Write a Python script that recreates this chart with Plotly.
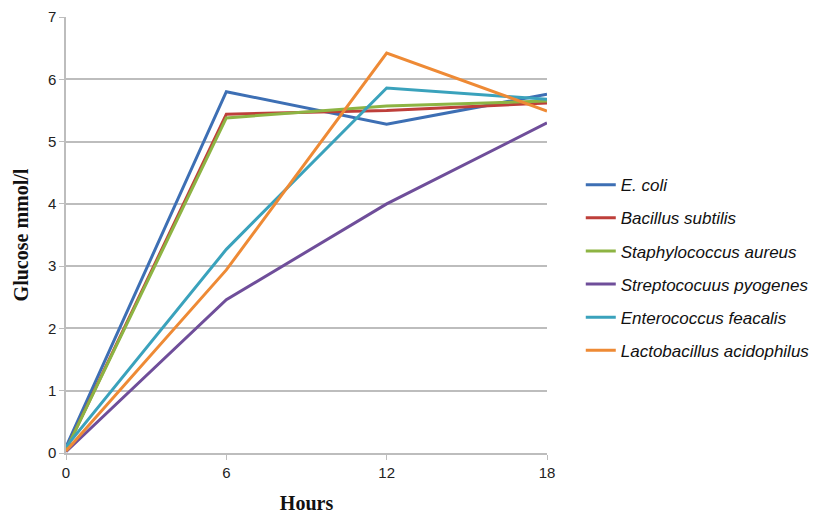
import plotly.graph_objects as go

hours = [0, 6, 12, 18]
e_coli = [0.10, 5.80, 5.28, 5.76]
bacillus = [0.05, 5.44, 5.50, 5.62]
staph = [0.05, 5.38, 5.57, 5.65]
strep = [0.02, 2.46, 4.00, 5.30]
entero = [0.10, 3.27, 5.86, 5.68]
lacto = [0.03, 2.94, 6.42, 5.49]

names = ["E. coli", "Bacillus subtilis", "Staphylococcus aureus",
         "Streptococuus pyogenes", "Enterococcus feacalis", "Lactobacillus acidophilus"]
series = [e_coli, bacillus, staph, strep, entero, lacto]
colors = ["#3D6FB4", "#BE3F3A", "#8DB443", "#6F4E9A", "#3AA2BC", "#EE8A35"]

fig = go.Figure()
for i, (n, s, c) in enumerate(zip(names, series, colors)):
    fig.add_trace(go.Scatter(x=hours, y=s, mode="lines", name="<i>" + n + "</i>",
                             legendgroup=f"g{i}",
                             line=dict(color=c, width=3)))

fig.update_layout(
    width=826, height=516,
    margin=dict(l=66, r=278, t=17, b=63),
    plot_bgcolor="white", paper_bgcolor="white",
    font=dict(family="Liberation Sans, Arial", size=15, color="#222"),
    legend=dict(x=1.068, y=0.425, xanchor="left", yanchor="middle",
                tracegroupgap=8, font=dict(size=17, color="#111"),
                itemwidth=30),
    xaxis=dict(range=[0, 18], tickvals=hours, showgrid=False, showline=True,
               linecolor="#BDBDBD", linewidth=1.5, ticks="outside", ticklen=5,
               tickcolor="#BDBDBD", zeroline=False, automargin=False,
               title=dict(text="<b>Hours</b>", font=dict(family="Liberation Serif, Times New Roman", size=20, color="#111"), standoff=16)),
    yaxis=dict(range=[0, 7], dtick=1, showgrid=True, gridcolor="#BDBDBD", gridwidth=1.5,
               showline=True, linecolor="#BDBDBD", linewidth=1.5, ticks="outside",
               ticklen=5, tickcolor="#BDBDBD", zeroline=False, automargin=False,
               title=dict(text="<b>Glucose mmol/l</b>", font=dict(family="Liberation Serif, Times New Roman", size=20, color="#111"), standoff=14)),
)

fig.write_html("out.html")
